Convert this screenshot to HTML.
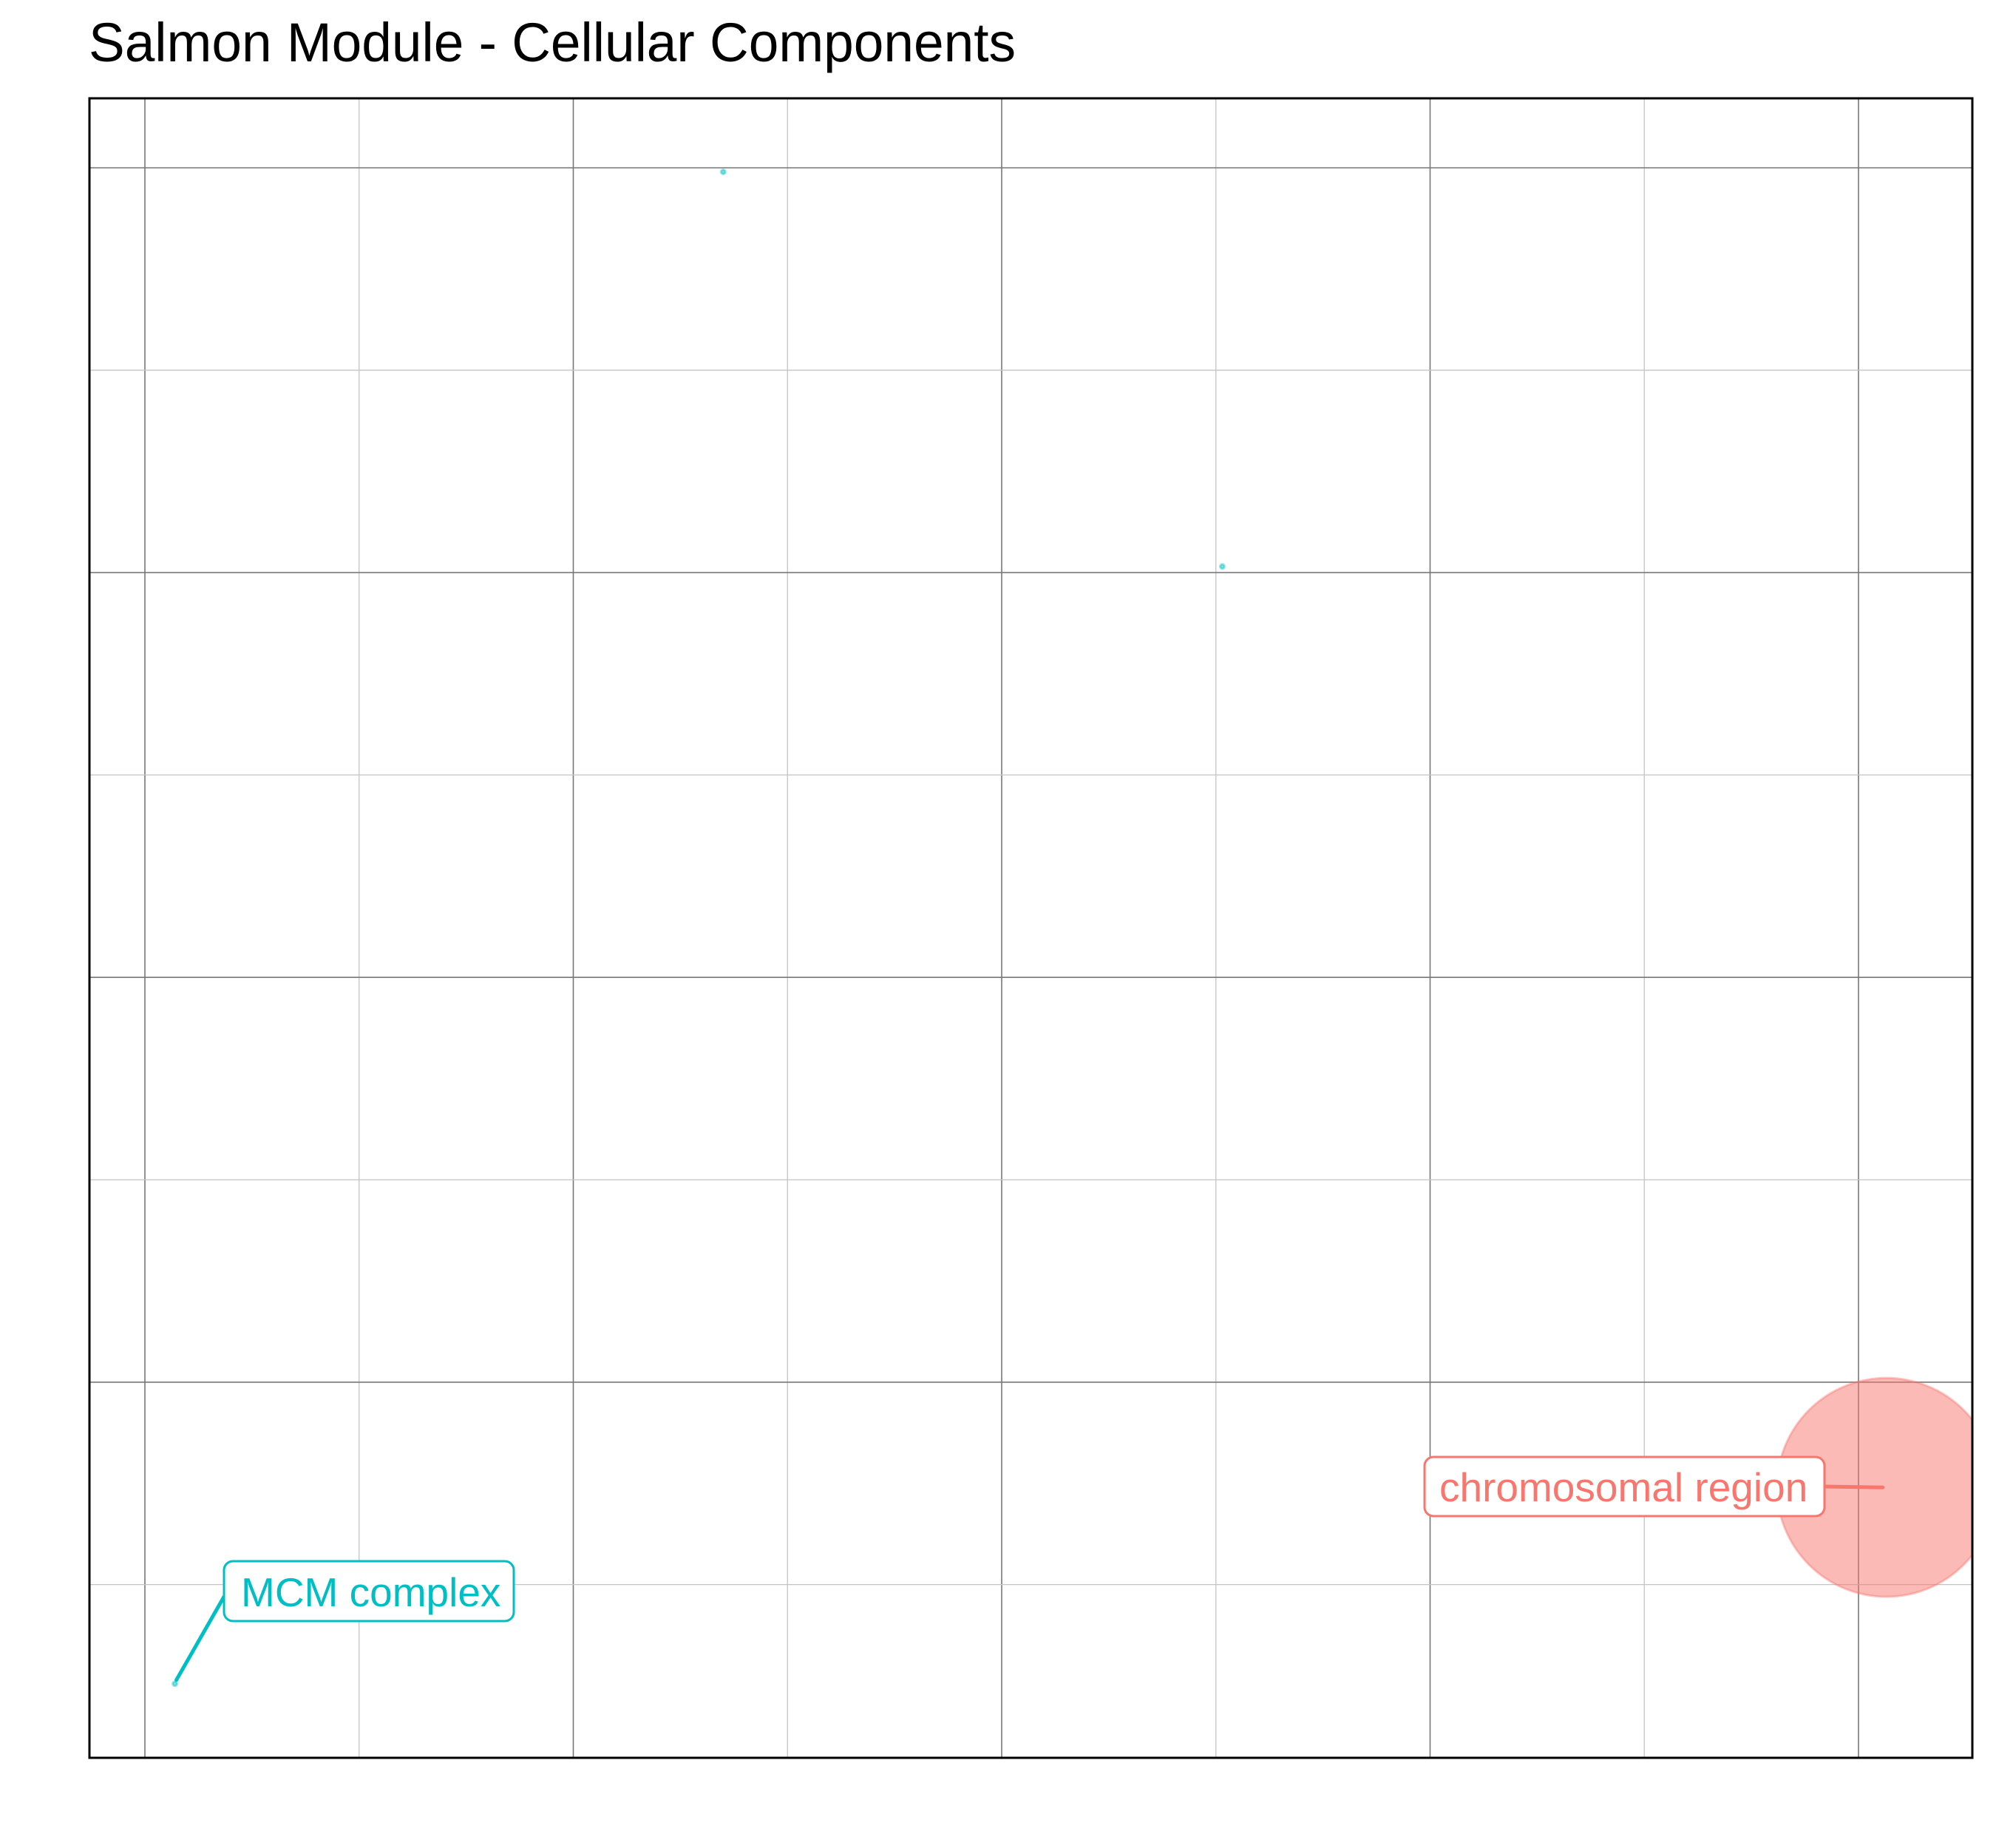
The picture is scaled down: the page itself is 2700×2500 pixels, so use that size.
<!DOCTYPE html>
<html><head><meta charset="utf-8"><style>
html,body{margin:0;padding:0;background:#fff;}
svg{display:block;font-family:"Liberation Sans",sans-serif;}
</style></head><body>
<svg id="chart" width="2700" height="2500" viewBox="0 0 2700 2500">
<text x="120" y="83" font-size="74" fill="#000" textLength="1254" lengthAdjust="spacingAndGlyphs">Salmon Module - Cellular Components</text>
<g id="grid"></g>
<g id="marks"></g>
<rect x="121" y="133" width="2547" height="2245" fill="none" stroke="#000" stroke-width="3"/>
</svg>
<script>
const xTicks = [0,1,2,3,4,5,6,7,8];
const yTicks = [0,1,2,3,4,5,6,7];
const termNames = ["chromosomal region","MCM complex","term-a","term-b"];
const xValues = [8.13, 0.14, 2.70, 5.03];
const yValues = [0.48, -0.49, 6.98, 5.03];
const sizeValues = [148, 3, 3, 3];
const groups = ["red","cyan","cyan","cyan"];

const NS="http://www.w3.org/2000/svg";
const X0=121,X1=2668,Y0=133,Y1=2378;
function sx(v){return 196+v*289.75;}
function sy(v){return 227+(7-v)*273.8;}
function mk(tag,attrs,parent){const e=document.createElementNS(NS,tag);for(const k in attrs)e.setAttribute(k,attrs[k]);parent.appendChild(e);return e;}
const grid=document.getElementById('grid');
const marks=document.getElementById('marks');
xTicks.forEach((t,i)=>{
  const l=mk('line',{x1:sx(t),x2:sx(t),y1:Y0,y2:Y1,stroke:i%2===0?'#777':'#c4c4c4','stroke-width':i%2===0?1.6:1.3},grid);
  
  
});
yTicks.forEach((t,i)=>{
  const l=mk('line',{x1:X0,x2:X1,y1:sy(t),y2:sy(t),stroke:i%2===1?'#777':'#c4c4c4','stroke-width':i%2===1?1.6:1.3},grid);
  
  
});
const cols={red:'#F8766D',cyan:'#00BFC4'};
const clip=mk('clipPath',{id:'pc'},mk('defs',{},document.getElementById('chart')));
mk('rect',{x:X0,y:Y0,width:X1-X0,height:Y1-Y0},clip);
xValues.forEach((xv,i)=>{
  const c=mk('circle',{cx:sx(xv),cy:sy(yValues[i]),r:sizeValues[i],fill:cols[groups[i]],'fill-opacity':0.5,stroke:cols[groups[i]],'stroke-opacity':0.4,'stroke-width':3,'clip-path':'url(#pc)'},marks);
  
  
});
function label(i,bx,by,bw,bh,tx,ty,lx,ly){
  const col=cols[groups[i]];
  const px=sx(xValues[i]),py=sy(yValues[i]);
  const ln=mk('line',{x1:px+(groups[i]==='red'?-5:2),y1:py-(groups[i]==='red'?0:5),x2:lx,y2:ly,stroke:col,'stroke-width':5,'stroke-linecap':'round'},marks);
  
  
  const r=mk('rect',{x:bx,y:by,width:bw,height:bh,rx:12,fill:'#fff',stroke:col,'stroke-width':3},marks);
  
  
  const t=mk('text',{x:tx,y:ty,'font-size':55,fill:col},marks);
  t.textContent=termNames[i];
  
  
}
label(0,1927,1971,541,80,1947,2031,2468,2011);
label(1,303,2112,392,81,326,2173,303,2160);
</script>
</body></html>
